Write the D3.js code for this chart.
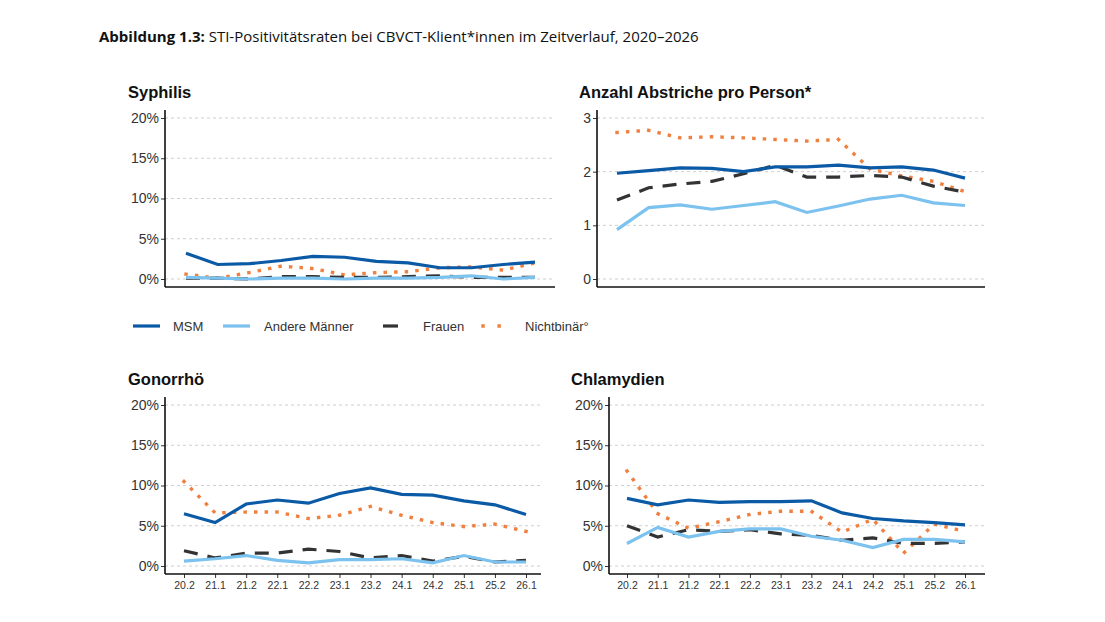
<!DOCTYPE html>
<html>
<head>
<meta charset="utf-8">
<script src="https://cdn.jsdelivr.net/npm/d3@7"></script>
<style>
  body { margin: 0; background: #fff; }
  text { font-family: "Liberation Sans", Arial, sans-serif; }
</style>
</head>
<body>
<svg id="chart" width="1105" height="622"></svg>
<script>
// Quartale
const quarters = ["20.2","21.1","21.2","22.1","22.2","23.1","23.2","24.1","24.2","25.1","25.2","26.1"];
const groups = ["MSM", "Andere Männer", "Frauen", "Nichtbinär°"];

// Syphilis (%)
const syphMSM    = [3.2,1.8,1.9,2.3,2.8,2.7,2.2,2.0,1.4,1.4,1.8,2.1];
const syphAndere = [0.2,0.1,0.0,0.1,0.1,0.0,0.1,0.1,0.2,0.4,0.0,0.2];
const syphFrauen = [0.1,0.1,0.0,0.3,0.3,0.2,0.2,0.3,0.4,0.2,0.2,0.2];
const syphNB     = [0.6,0.1,0.8,1.6,1.3,0.5,0.8,0.9,1.4,1.5,1.1,2.0];

// Anzahl Abstriche pro Person
const abMSM    = [1.97,2.02,2.07,2.06,2.00,2.09,2.09,2.12,2.07,2.09,2.03,1.88];
const abAndere = [0.92,1.33,1.38,1.30,1.37,1.44,1.24,1.36,1.49,1.56,1.42,1.37];
const abFrauen = [1.47,1.70,1.77,1.82,1.96,2.12,1.90,1.90,1.93,1.90,1.73,1.62];
const abNB     = [2.73,2.77,2.63,2.65,2.63,2.60,2.57,2.60,2.05,1.92,1.82,1.63];

// Gonorrhö (%)
const goMSM    = [6.5,5.4,7.7,8.2,7.8,9.0,9.7,8.9,8.8,8.1,7.6,6.4];
const goAndere = [0.6,0.9,1.3,0.7,0.4,0.8,0.8,0.9,0.4,1.3,0.5,0.5];
const goFrauen = [1.9,1.0,1.6,1.6,2.1,1.8,1.0,1.3,0.6,1.2,0.5,0.7];
const goNB     = [10.5,6.6,6.7,6.7,5.9,6.3,7.4,6.3,5.4,4.9,5.2,4.3];

// Chlamydien (%)
const chMSM    = [8.4,7.6,8.2,7.9,8.0,8.0,8.1,6.6,5.9,5.6,5.4,5.1];
const chAndere = [2.8,4.8,3.6,4.3,4.6,4.6,3.7,3.2,2.3,3.3,3.3,3.0];
const chFrauen = [5.0,3.6,4.5,4.3,4.5,4.0,3.8,3.2,3.5,2.8,2.8,3.0];
const chNB     = [11.8,6.5,4.7,5.5,6.4,6.8,6.8,4.2,5.8,1.6,5.2,4.3];

const pctTicks = [0, 5, 10, 15, 20];
const abTicks = [0, 1, 2, 3];

const styles = [
  { color: "#0b5aa6", width: 3.2, dash: null, cap: "butt" },
  { color: "#7cc2ee", width: 3.2, dash: null, cap: "butt" },
  { color: "#333333", width: 3.2, dash: "14,10", cap: "butt" },
  { color: "#f08040", width: 3.4, dash: "0.1,10.5", cap: "square" }
];

const svg = d3.select("#chart");

const title = svg.append("text").attr("x", 99).attr("y", 42)
  .style("font-family", "'Open Sans', sans-serif").style("font-size", "15px").attr("fill", "#111");
title.append("tspan").style("font-weight", "bold").text("Abbildung 1.3:");
title.append("tspan").text(" STI-Positivitätsraten bei CBVCT-Klient*innen im Zeitverlauf, 2020–2026");

function panel(cfg) {
  const g = svg.append("g");
  const x = d3.scalePoint().domain(quarters).range([cfg.x0, cfg.x1]);
  const y = d3.scaleLinear().domain([0, cfg.max]).range([cfg.yb, cfg.yt]);

  // Gitterlinien
  g.selectAll(".grid").data(cfg.ticks).enter().append("line")
    .attr("x1", cfg.left).attr("x2", cfg.right)
    .attr("y1", d => y(d)).attr("y2", d => y(d))
    .attr("stroke", "#cfcfcf").attr("stroke-dasharray", "3,3");

  // y-Achse
  const ya = g.append("g").attr("transform", `translate(${cfg.left},0)`)
    .call(d3.axisLeft(y).tickValues(cfg.ticks).tickSize(4).tickFormat(cfg.fmt));
  ya.select(".domain").remove();
  ya.selectAll("line").attr("stroke", "#333");
  ya.selectAll("text").attr("fill", "#333").style("font-size", "14px").attr("x", -6);
  g.append("line").attr("x1", cfg.left).attr("x2", cfg.left)
    .attr("y1", cfg.yt - 8).attr("y2", cfg.axisY).attr("stroke", "#111").attr("stroke-width", 1.6);

  // x-Achse
  const xa = g.append("g").attr("transform", `translate(0,${cfg.axisY})`)
    .call(d3.axisBottom(x).tickSize(cfg.labels ? 4 : 0).tickFormat(cfg.labels ? d => d : ""));
  xa.select(".domain").remove();
  xa.selectAll("line").attr("stroke", "#333");
  xa.selectAll("text").attr("fill", "#333").style("font-size", "10.5px").attr("y", 8);
  g.append("line").attr("x1", cfg.left).attr("x2", cfg.right)
    .attr("y1", cfg.axisY).attr("y2", cfg.axisY).attr("stroke", "#111").attr("stroke-width", 1.6);

  const line = d3.line().x((d, i) => x(quarters[i])).y(d => y(d));
  [3, 2, 1, 0].forEach(k => {
    const s = styles[k];
    const p = g.append("path").datum(cfg.series[k]).attr("d", line)
      .attr("fill", "none").attr("stroke", s.color).attr("stroke-width", s.width)
      .attr("stroke-linecap", s.cap);
    if (s.dash) p.attr("stroke-dasharray", s.dash);
  });
  // MSM etc. order: draw NB first, MSM last
  g.append("text").attr("x", cfg.tx).attr("y", cfg.yt - 20)
    .style("font-size", "16.5px").style("font-weight", "bold").attr("fill", "#111").text(cfg.title);
}

const pct = d => d + "%";
panel({ title: "Syphilis", tx: 128, left: 165, right: 555, x0: 186, x1: 535, yt: 118, yb: 279, axisY: 287,
  max: 20, ticks: pctTicks, fmt: pct, labels: false, series: [syphMSM, syphAndere, syphFrauen, syphNB] });
panel({ title: "Anzahl Abstriche pro Person*", tx: 579, left: 597, right: 985, x0: 617, x1: 965, yt: 118, yb: 279, axisY: 287,
  max: 3, ticks: abTicks, fmt: d => d, labels: false, series: [abMSM, abAndere, abFrauen, abNB] });
panel({ title: "Gonorrhö", tx: 128, left: 165, right: 541, x0: 184, x1: 526, yt: 405, yb: 566, axisY: 574,
  max: 20, ticks: pctTicks, fmt: pct, labels: true, series: [goMSM, goAndere, goFrauen, goNB] });
panel({ title: "Chlamydien", tx: 571, left: 609, right: 985, x0: 627, x1: 965, yt: 405, yb: 566, axisY: 574,
  max: 20, ticks: pctTicks, fmt: pct, labels: true, series: [chMSM, chAndere, chFrauen, chNB] });

// Legende
const legX = [[133, 160, 173], [223, 250, 264], [383, 398, 423], [482, 508, 525]];
groups.forEach((name, k) => {
  const s = styles[k];
  const l = svg.append("line").attr("x1", legX[k][0]).attr("x2", legX[k][1])
    .attr("y1", 326).attr("y2", 326).attr("stroke", s.color).attr("stroke-width", s.width)
    .attr("stroke-linecap", s.cap);
  if (k === 3) l.attr("x1", legX[k][0] + 1).attr("stroke-dasharray", "0.1,16");
  svg.append("text").attr("x", legX[k][2]).attr("y", 331).style("font-size", "13px")
    .attr("fill", "#333").text(name);
});
</script>
</body>
</html>
